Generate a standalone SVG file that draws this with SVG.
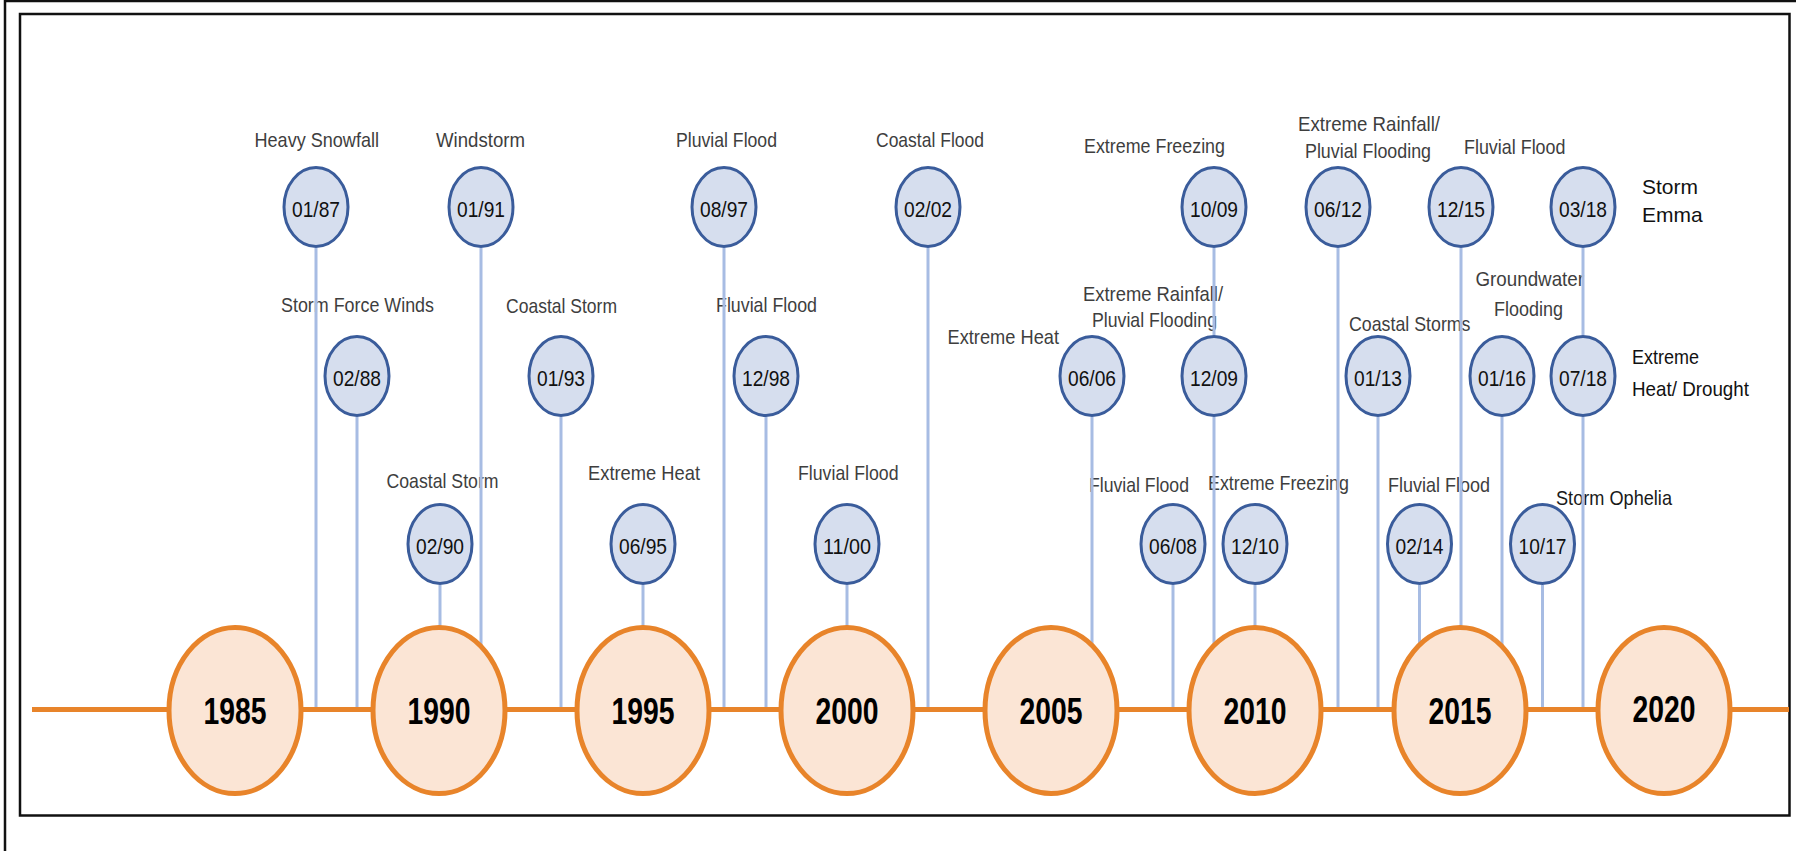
<svg xmlns="http://www.w3.org/2000/svg" width="1796" height="851" viewBox="0 0 1796 851">
<style>
.frame{fill:none;stroke:#111;stroke-width:2.5}
.ev{fill:#D6DEEE;stroke:#3A5C9B;stroke-width:3}
.yr{fill:#FBE5D5;stroke:#E8842A;stroke-width:5}
.date{font-family:"Liberation Sans",Arial,sans-serif;font-size:22px;fill:#111;text-anchor:start}
.year{font-family:"Liberation Sans",Arial,sans-serif;font-size:37px;font-weight:bold;fill:#000}
.lbl{font-family:"Liberation Sans",Arial,sans-serif;font-size:21px;fill:#3E3E3E}
.blk{font-family:"Liberation Sans",Arial,sans-serif;font-size:21px;fill:#111}
.conn line{stroke:#A7BCE3;stroke-width:3}
</style>
<rect width="1796" height="851" fill="#fff"/>
<path class="frame" d="M5,851 V1 H1796"/>
<rect class="frame" x="20" y="14" width="1769.5" height="801.5"/>

<g id="events">
<g id="e0187"><ellipse class="ev" cx="316" cy="207" rx="32" ry="39.5"/><text class="date" x="292" y="217" textLength="48" lengthAdjust="spacingAndGlyphs">01/87</text><text class="lbl" x="254.5" y="147" textLength="124.5" lengthAdjust="spacingAndGlyphs">Heavy Snowfall</text></g>
<g id="e0191"><ellipse class="ev" cx="481" cy="207" rx="32" ry="39.5"/><text class="date" x="457" y="217" textLength="48" lengthAdjust="spacingAndGlyphs">01/91</text><text class="lbl" x="436" y="147" textLength="89" lengthAdjust="spacingAndGlyphs">Windstorm</text></g>
<g id="e0897"><ellipse class="ev" cx="724" cy="207" rx="32" ry="39.5"/><text class="date" x="700" y="217" textLength="48" lengthAdjust="spacingAndGlyphs">08/97</text><text class="lbl" x="676" y="147" textLength="101" lengthAdjust="spacingAndGlyphs">Pluvial Flood</text></g>
<g id="e0202"><ellipse class="ev" cx="928" cy="207" rx="32" ry="39.5"/><text class="date" x="904" y="217" textLength="48" lengthAdjust="spacingAndGlyphs">02/02</text><text class="lbl" x="876" y="147" textLength="108" lengthAdjust="spacingAndGlyphs">Coastal Flood</text></g>
<g id="e1009"><ellipse class="ev" cx="1214" cy="207" rx="32" ry="39.5"/><text class="date" x="1190" y="217" textLength="48" lengthAdjust="spacingAndGlyphs">10/09</text><text class="lbl" x="1084" y="153" textLength="141" lengthAdjust="spacingAndGlyphs">Extreme Freezing</text></g>
<g id="e0612"><ellipse class="ev" cx="1338" cy="207" rx="32" ry="39.5"/><text class="date" x="1314" y="217" textLength="48" lengthAdjust="spacingAndGlyphs">06/12</text><text class="lbl" x="1298" y="131" textLength="142" lengthAdjust="spacingAndGlyphs">Extreme Rainfall/</text><text class="lbl" x="1305" y="158" textLength="126" lengthAdjust="spacingAndGlyphs">Pluvial Flooding</text></g>
<g id="e1215"><ellipse class="ev" cx="1461" cy="207" rx="32" ry="39.5"/><text class="date" x="1437" y="217" textLength="48" lengthAdjust="spacingAndGlyphs">12/15</text><text class="lbl" x="1464" y="154" textLength="101.5" lengthAdjust="spacingAndGlyphs">Fluvial Flood</text></g>
<g id="e0318"><ellipse class="ev" cx="1583" cy="207" rx="32" ry="39.5"/><text class="date" x="1559" y="217" textLength="48" lengthAdjust="spacingAndGlyphs">03/18</text><text class="blk" x="1642" y="194">Storm</text><text class="blk" x="1642" y="222">Emma</text></g>

<g id="e0288"><ellipse class="ev" cx="357" cy="376" rx="32" ry="39.5"/><text class="date" x="333" y="386" textLength="48" lengthAdjust="spacingAndGlyphs">02/88</text><text class="lbl" x="281" y="312" textLength="153" lengthAdjust="spacingAndGlyphs">Storm Force Winds</text></g>
<g id="e0193"><ellipse class="ev" cx="561" cy="376" rx="32" ry="39.5"/><text class="date" x="537" y="386" textLength="48" lengthAdjust="spacingAndGlyphs">01/93</text><text class="lbl" x="506" y="313" textLength="111" lengthAdjust="spacingAndGlyphs">Coastal Storm</text></g>
<g id="e1298"><ellipse class="ev" cx="766" cy="376" rx="32" ry="39.5"/><text class="date" x="742" y="386" textLength="48" lengthAdjust="spacingAndGlyphs">12/98</text><text class="lbl" x="716" y="312" textLength="101" lengthAdjust="spacingAndGlyphs">Fluvial Flood</text></g>
<g id="e0606"><ellipse class="ev" cx="1092" cy="376" rx="32" ry="39.5"/><text class="date" x="1068" y="386" textLength="48" lengthAdjust="spacingAndGlyphs">06/06</text><text class="lbl" x="947.5" y="344" textLength="111.5" lengthAdjust="spacingAndGlyphs">Extreme Heat</text></g>
<g id="e1209"><ellipse class="ev" cx="1214" cy="376" rx="32" ry="39.5"/><text class="date" x="1190" y="386" textLength="48" lengthAdjust="spacingAndGlyphs">12/09</text><text class="lbl" x="1083" y="301" textLength="140" lengthAdjust="spacingAndGlyphs">Extreme Rainfall/</text><text class="lbl" x="1092" y="327" textLength="125" lengthAdjust="spacingAndGlyphs">Pluvial Flooding</text></g>
<g id="e0113"><ellipse class="ev" cx="1378" cy="376" rx="32" ry="39.5"/><text class="date" x="1354" y="386" textLength="48" lengthAdjust="spacingAndGlyphs">01/13</text><text class="lbl" x="1349" y="331" textLength="121.5" lengthAdjust="spacingAndGlyphs">Coastal Storms</text></g>
<g id="e0116"><ellipse class="ev" cx="1502" cy="376" rx="32" ry="39.5"/><text class="date" x="1478" y="386" textLength="48" lengthAdjust="spacingAndGlyphs">01/16</text><text class="lbl" x="1475.5" y="286" textLength="108.5" lengthAdjust="spacingAndGlyphs">Groundwater</text><text class="lbl" x="1494" y="316" textLength="69" lengthAdjust="spacingAndGlyphs">Flooding</text></g>
<g id="e0718"><ellipse class="ev" cx="1583" cy="376" rx="32" ry="39.5"/><text class="date" x="1559" y="386" textLength="48" lengthAdjust="spacingAndGlyphs">07/18</text><text class="lbl" x="1632" y="364" textLength="67" lengthAdjust="spacingAndGlyphs" style="fill:#111">Extreme</text><text class="lbl" x="1632" y="396" textLength="117" lengthAdjust="spacingAndGlyphs" style="fill:#111">Heat/ Drought</text></g>

<g id="e0290"><ellipse class="ev" cx="440" cy="544" rx="32" ry="39.5"/><text class="date" x="416" y="554" textLength="48" lengthAdjust="spacingAndGlyphs">02/90</text><text class="lbl" x="386.5" y="488" textLength="112" lengthAdjust="spacingAndGlyphs">Coastal Storm</text></g>
<g id="e0695"><ellipse class="ev" cx="643" cy="544" rx="32" ry="39.5"/><text class="date" x="619" y="554" textLength="48" lengthAdjust="spacingAndGlyphs">06/95</text><text class="lbl" x="588" y="480" textLength="112" lengthAdjust="spacingAndGlyphs">Extreme Heat</text></g>
<g id="e1100"><ellipse class="ev" cx="847" cy="544" rx="32" ry="39.5"/><text class="date" x="823" y="554" textLength="48" lengthAdjust="spacingAndGlyphs">11/00</text><text class="lbl" x="798" y="480" textLength="100.5" lengthAdjust="spacingAndGlyphs">Fluvial Flood</text></g>
<g id="e0608"><ellipse class="ev" cx="1173" cy="544" rx="32" ry="39.5"/><text class="date" x="1149" y="554" textLength="48" lengthAdjust="spacingAndGlyphs">06/08</text><text class="lbl" x="1089" y="492" textLength="100" lengthAdjust="spacingAndGlyphs">Fluvial Flood</text></g>
<g id="e1210"><ellipse class="ev" cx="1255" cy="544" rx="32" ry="39.5"/><text class="date" x="1231" y="554" textLength="48" lengthAdjust="spacingAndGlyphs">12/10</text><text class="lbl" x="1208" y="490" textLength="141" lengthAdjust="spacingAndGlyphs">Extreme Freezing</text></g>
<g id="e0214"><ellipse class="ev" cx="1419.5" cy="544" rx="32" ry="39.5"/><text class="date" x="1395.5" y="554" textLength="48" lengthAdjust="spacingAndGlyphs">02/14</text><text class="lbl" x="1388" y="492" textLength="102" lengthAdjust="spacingAndGlyphs">Fluvial Flood</text></g>
<g id="e1017"><ellipse class="ev" cx="1542.5" cy="544" rx="32" ry="39.5"/><text class="date" x="1518.5" y="554" textLength="48" lengthAdjust="spacingAndGlyphs">10/17</text><text class="lbl" x="1556" y="505" textLength="116" lengthAdjust="spacingAndGlyphs" style="fill:#1a1a1a">Storm Ophelia</text></g>
</g>

<g id="connectors" class="conn">
<line x1="316" y1="248" x2="316" y2="709"/>
<line x1="481" y1="248" x2="481" y2="709"/>
<line x1="724" y1="248" x2="724" y2="709"/>
<line x1="928" y1="248" x2="928" y2="709"/>
<line x1="1214" y1="248" x2="1214" y2="335"/>
<line x1="1338" y1="248" x2="1338" y2="709"/>
<line x1="1461" y1="248" x2="1461" y2="709"/>
<line x1="1583" y1="248" x2="1583" y2="335"/>
<line x1="357" y1="417" x2="357" y2="709"/>
<line x1="561" y1="417" x2="561" y2="709"/>
<line x1="766" y1="417" x2="766" y2="709"/>
<line x1="1092" y1="417" x2="1092" y2="709"/>
<line x1="1214" y1="417" x2="1214" y2="709"/>
<line x1="1378" y1="417" x2="1378" y2="709"/>
<line x1="1502" y1="417" x2="1502" y2="709"/>
<line x1="1583" y1="417" x2="1583" y2="709"/>
<line x1="440" y1="585" x2="440" y2="709"/>
<line x1="643" y1="585" x2="643" y2="709"/>
<line x1="847" y1="585" x2="847" y2="709"/>
<line x1="1173" y1="585" x2="1173" y2="709"/>
<line x1="1255" y1="585" x2="1255" y2="709"/>
<line x1="1419.5" y1="585" x2="1419.5" y2="709"/>
<line x1="1542.5" y1="585" x2="1542.5" y2="709"/>
</g>

<g id="timeline"><line x1="32" y1="709.5" x2="1789" y2="709.5" stroke="#E8842A" stroke-width="5"/></g>

<g id="years">
<g id="y1985"><ellipse class="yr" cx="235" cy="710.5" rx="66" ry="83"/><text class="year" x="203.5" y="724" textLength="63" lengthAdjust="spacingAndGlyphs">1985</text></g>
<g id="y1990"><ellipse class="yr" cx="439" cy="710.5" rx="66" ry="83"/><text class="year" x="407.5" y="724" textLength="63" lengthAdjust="spacingAndGlyphs">1990</text></g>
<g id="y1995"><ellipse class="yr" cx="643" cy="710.5" rx="66" ry="83"/><text class="year" x="611.5" y="724" textLength="63" lengthAdjust="spacingAndGlyphs">1995</text></g>
<g id="y2000"><ellipse class="yr" cx="847" cy="710.5" rx="66" ry="83"/><text class="year" x="815.5" y="724" textLength="63" lengthAdjust="spacingAndGlyphs">2000</text></g>
<g id="y2005"><ellipse class="yr" cx="1051" cy="710.5" rx="66" ry="83"/><text class="year" x="1019.5" y="724" textLength="63" lengthAdjust="spacingAndGlyphs">2005</text></g>
<g id="y2010"><ellipse class="yr" cx="1255" cy="710.5" rx="66" ry="83"/><text class="year" x="1223.5" y="724" textLength="63" lengthAdjust="spacingAndGlyphs">2010</text></g>
<g id="y2015"><ellipse class="yr" cx="1460" cy="710.5" rx="66" ry="83"/><text class="year" x="1428.5" y="724" textLength="63" lengthAdjust="spacingAndGlyphs">2015</text></g>
<g id="y2020"><ellipse class="yr" cx="1664" cy="710.5" rx="66" ry="83"/><text class="year" x="1632.5" y="722" textLength="63" lengthAdjust="spacingAndGlyphs">2020</text></g>
</g>
</svg>
